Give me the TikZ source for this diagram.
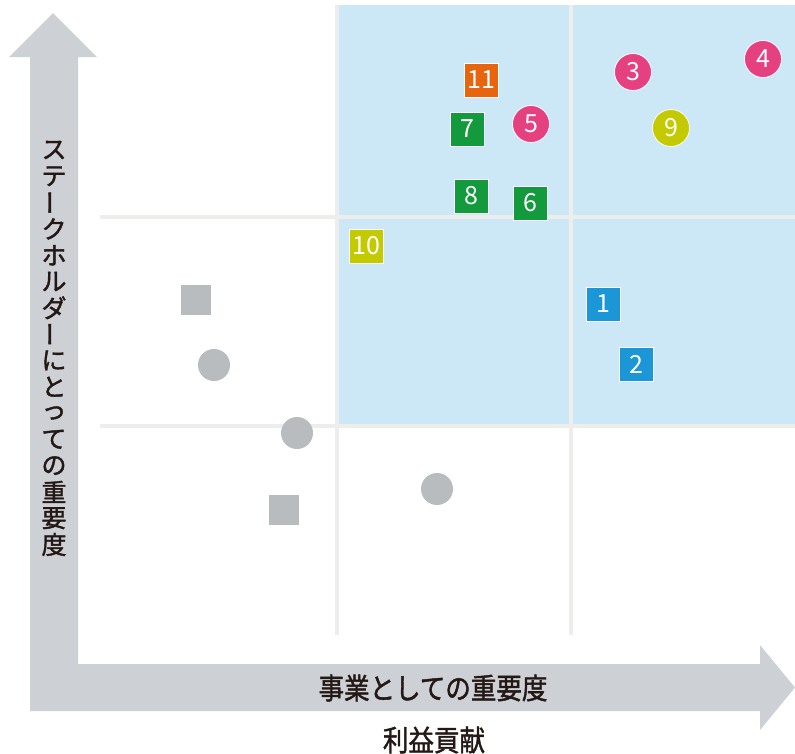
\documentclass[tikz,border=0pt]{standalone}
\usepackage{fontspec}
\setmainfont{Noto Sans CJK JP}
\newfontfamily\jp{Noto Sans CJK JP}
\newfontfamily\jpb[FakeBold=1.6]{Noto Sans CJK JP}
\newcommand{\vbarchar}{\rotatebox{90}{ー}}
\definecolor{arrowgray}{HTML}{CDD1D5}
\definecolor{quadblue}{HTML}{CCE8F6}
\definecolor{gridline}{HTML}{EDEDEB}
\definecolor{mkorange}{HTML}{E8650F}
\definecolor{mkgreen}{HTML}{129A3D}
\definecolor{mkpink}{HTML}{E5407F}
\definecolor{mkyellow}{HTML}{C3CB00}
\definecolor{mkblue}{HTML}{1B96D6}
\definecolor{mkgray}{HTML}{B9BCBF}
\definecolor{txt}{HTML}{231815}
\tikzset{
  sqmark/.style={rectangle, draw=white, line width=0.8pt, minimum size=34pt, inner sep=0pt, text=white, font=\jp\fontsize{25}{25}\selectfont},
  circmark/.style={circle, draw=white, line width=0.8pt, minimum size=37pt, inner sep=0pt, text=white, font=\jp\fontsize{25}{25}\selectfont},
  graysq/.style={rectangle, fill=mkgray, minimum size=30pt, inner sep=0pt},
  graycirc/.style={circle, fill=mkgray, minimum size=32pt, inner sep=0pt},
  gridln/.style={draw=gridline, line width=4pt},
  vchar/.style={inner sep=0pt, text=txt, font=\jpb\fontsize{25}{25}\selectfont},
  axlabel/.style={inner sep=0pt, text=txt, font=\jpb\fontsize{29}{29}\selectfont}
}
\begin{document}
\begin{tikzpicture}[x=1pt,y=-1pt]
\useasboundingbox (0,0) rectangle (795,753);
\fill[white] (0,0) rectangle (795,753);
% blue quadrants
\fill[quadblue] (338,5) rectangle (795,425);
% grid lines
\draw[gridln] (337,5) -- (337,635);
\draw[gridln] (571,5) -- (571,635);
\draw[gridln] (100,217) -- (795,217);
\draw[gridln] (100,426) -- (795,426);
% axes arrow
\fill[arrowgray] (30,711) -- (30,57) -- (9,57) -- (53,13) -- (97,57) -- (78,57) -- (78,664)
  -- (760,664) -- (760,645) -- (795,687.5) -- (760,730) -- (760,711) -- cycle;
% vertical label
\foreach \c [count=\i] in {ス,テ,\vbarchar,ク,ホ,ル,ダ,\vbarchar,に,と,っ,て,の,重,要,度}{
  \node[vchar] (v\i) at (54,{150+(\i-1)*26.3}) {\c};
}
% horizontal labels
\node[axlabel] (xl) at (433,688) {\scalebox{0.88}[1]{事業としての重要度}};
\node[axlabel] (xl2) at (434,740) {\scalebox{0.88}[1]{利益貢献}};
% gray markers
\node[graysq] (g1) at (196,300) {};
\node[graycirc] (g2) at (214,365) {};
\node[graycirc] (g3) at (297,433) {};
\node[graysq] (g4) at (284,510) {};
\node[graycirc] (g5) at (437,489) {};
% numbered markers
\node[sqmark, fill=mkorange] (m11) at (481,80) {11};
\node[sqmark, fill=mkgreen] (m7) at (467,129) {7};
\node[circmark, fill=mkpink] (m5) at (531,124) {5};
\node[sqmark, fill=mkgreen] (m8) at (471,196) {8};
\node[sqmark, fill=mkgreen] (m6) at (530,203) {6};
\node[sqmark, fill=mkyellow] (m10) at (366,246) {10};
\node[circmark, fill=mkpink] (m3) at (633,72) {3};
\node[circmark, fill=mkpink] (m4) at (763,59) {4};
\node[circmark, fill=mkyellow] (m9) at (671,128) {9};
\node[sqmark, fill=mkblue] (m1) at (603,304) {1};
\node[sqmark, fill=mkblue] (m2) at (636,364) {2};
\end{tikzpicture}
\end{document}
